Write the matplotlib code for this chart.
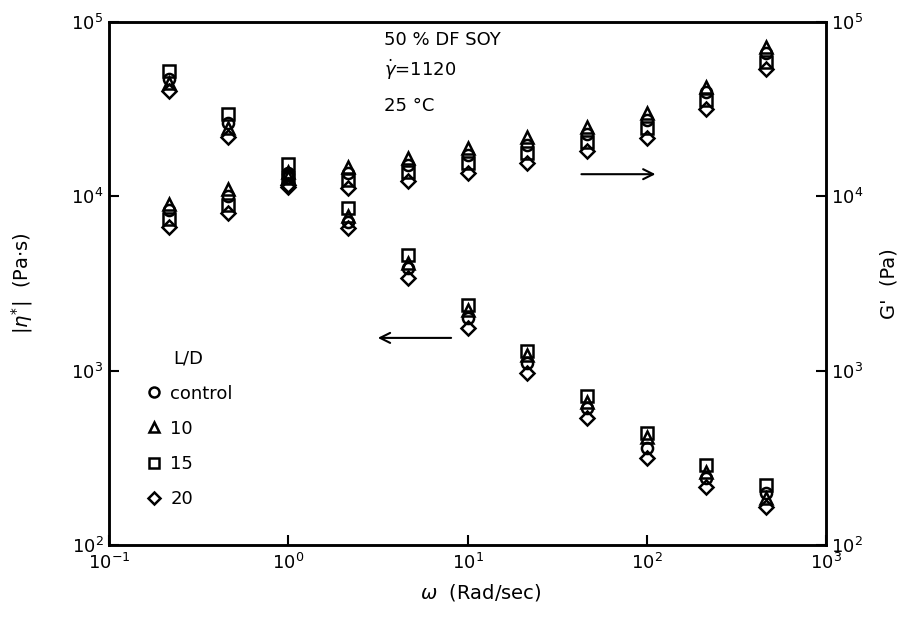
import numpy as np
from matplotlib import pyplot as plt
from matplotlib.ticker import LogLocator, NullLocator

plt.rc('font', size=13)

# frequency, rad/s
omega = [0.215, 0.464, 1.0, 2.15, 4.64, 10.0, 21.5, 46.4, 100.0, 215.0, 464.0]

# |eta*| (Pa s)
eta_control = [47100, 26300, 13600, 7120, 3880, 2005, 1106, 610, 360, 242, 199]
eta_10 = [44700, 24600, 12900, 7710, 4140, 2230, 1229, 661, 416, 262, 186]
eta_15 = [52500, 29600, 15300, 8570, 4600, 2380, 1295, 715, 438, 287, 221]
eta_20 = [40200, 21900, 11300, 6580, 3400, 1755, 969, 535, 315, 215, 165]

# G' (Pa)
g_control = [8340, 10040, 13250, 13600, 15130, 17250, 19680, 22770, 27420, 39640, 66400]
g_10 = [9030, 11000, 13780, 14730, 16590, 18920, 21880, 24980, 30080, 42360, 71900]
g_15 = [7410, 8910, 12740, 12400, 13780, 15520, 17710, 20490, 24670, 35680, 58900]
g_20 = [6670, 8020, 11620, 11170, 12230, 13610, 15520, 18190, 21600, 31680, 53700]

labels = ['control', '10', '15', '20']
markers = ['o', '^', 's', 'D']
sizes = [8, 8, 8, 7]

fig = plt.figure(figsize=(9.07, 6.18), dpi=100)
ax = fig.add_axes([0.1202, 0.1181, 0.7905, 0.8463])
ax2 = ax.twinx()

eta = [eta_control, eta_10, eta_15, eta_20]
gp = [g_control, g_10, g_15, g_20]
for e, g, m, lab, ms in zip(eta, gp, markers, labels, sizes):
    kw = dict(ls='none', marker=m, ms=ms, mfc='none', mec='black', mew=1.8)
    ax.plot(omega, e, label=lab, **kw)
    ax2.plot(omega, g, **kw)

for a in (ax, ax2):
    a.set_xscale('log')
    a.set_yscale('log')
    a.set_xlim(1e-1, 1e3)
    a.set_ylim(1e2, 1e5)
    a.xaxis.set_major_locator(LogLocator(base=10, numticks=10))
    a.xaxis.set_minor_locator(NullLocator())
    a.yaxis.set_minor_locator(NullLocator())
    a.tick_params(direction='in', length=7, width=1.5, labelsize=13)
    for sp in a.spines.values():
        sp.set_linewidth(1.8)

ax.yaxis.set_major_locator(LogLocator(base=10, numticks=10))
ax2.yaxis.set_major_locator(LogLocator(base=10, numticks=10))
ax.tick_params(axis='x', pad=6)
ax.tick_params(axis='y', pad=4)

ax.set_ylabel(r'$|\eta^{*}|$  (Pa$\cdot$s)', fontsize=14, labelpad=26)
ax2.set_ylabel("G'  (Pa)", fontsize=14, labelpad=12)
fig.text(0.53, 0.032, r'$\omega$  (Rad/sec)', fontsize=14, ha='center')

ax.text(0.383, 0.965, '50 % DF SOY', transform=ax.transAxes, fontsize=13,
        va='center', ha='left')
ax.text(0.383, 0.908, r'$\dot{\gamma}$=1120', transform=ax.transAxes,
        fontsize=13, va='center', ha='left')
ax.text(0.383, 0.84, '25 °C', transform=ax.transAxes, fontsize=13,
        va='center', ha='left')

ax.annotate('', xy=(0.766, 0.709), xytext=(0.655, 0.709), xycoords='axes fraction',
            arrowprops=dict(arrowstyle='->', lw=1.5, color='black',
                            mutation_scale=18))
ax.annotate('', xy=(0.371, 0.396), xytext=(0.481, 0.396), xycoords='axes fraction',
            arrowprops=dict(arrowstyle='->', lw=1.5, color='black',
                            mutation_scale=18))

leg = ax.legend(loc='upper left', bbox_to_anchor=(0.025, 0.405), frameon=False,
                title='L/D', fontsize=13, title_fontsize=13, labelspacing=0.95,
                handletextpad=0.3, handlelength=1.2, markerscale=0.9)

fig.savefig('out.png', dpi=100)
